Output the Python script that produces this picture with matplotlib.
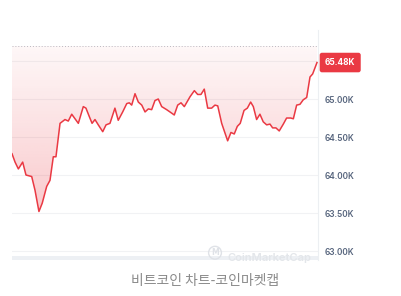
import numpy as np
import matplotlib
matplotlib.use("Agg")
import matplotlib.pyplot as plt
from matplotlib.patches import Polygon

# ---- data ----
hours = [0.00, 0.24, 0.50, 0.84, 1.10, 1.55, 1.81, 2.12, 2.38, 2.73, 2.99, 3.25, 3.46,
         3.78, 4.17, 4.43, 4.70, 5.22, 5.61, 5.82, 6.08, 6.30, 6.53, 6.79, 7.14, 7.40,
         7.71, 8.10, 8.36, 8.71, 9.03, 9.23, 9.42, 9.68, 9.94, 10.21, 10.47, 10.73,
         10.99, 11.25, 11.51, 11.78, 12.17, 12.43, 12.77, 13.04, 13.30, 13.56, 14.01,
         14.35, 14.61, 14.87, 15.13, 15.40, 15.71, 15.97, 16.19, 16.50, 16.97, 17.23,
         17.49, 17.73, 17.96, 18.26, 18.52, 18.78, 18.99, 19.25, 19.51, 19.77, 20.04,
         20.30, 20.51, 20.77, 21.03, 21.35, 21.61, 21.93, 22.14, 22.40, 22.66, 22.92,
         23.19, 23.45, 23.66, 24.00]
price_k = [64.28, 64.17, 64.08, 64.17, 64.00, 63.98, 63.80, 63.52, 63.63, 63.85, 63.93,
           64.24, 64.24, 64.68, 64.73, 64.71, 64.80, 64.68, 64.90, 64.88, 64.77, 64.68,
           64.73, 64.66, 64.57, 64.66, 64.68, 64.88, 64.72, 64.83, 64.94, 64.95, 64.92,
           65.07, 64.96, 64.92, 64.83, 64.87, 64.86, 64.98, 65.00, 64.90, 64.86, 64.83,
           64.79, 64.92, 64.95, 64.90, 65.03, 65.11, 65.06, 65.06, 65.13, 64.88, 64.88,
           64.92, 64.91, 64.68, 64.45, 64.56, 64.54, 64.64, 64.68, 64.85, 64.88, 64.96,
           64.90, 64.73, 64.80, 64.70, 64.66, 64.67, 64.62, 64.62, 64.58, 64.67, 64.75,
           64.75, 64.74, 64.92, 64.93, 64.99, 65.02, 65.29, 65.33, 65.48]
ref_price = 65.70
last_price = 65.48
yticks = [63.0, 63.5, 64.0, 64.5, 65.0]
ytick_labels = ["63.00K", "63.50K", "64.00K", "64.50K", "65.00K"]
grid_levels = [63.0, 63.5, 64.0, 64.5, 65.0, 65.5]
caption = "비트코인 차트-코인마켓캡"

RED = "#ea3943"
W, H = 401, 296
fig = plt.figure(figsize=(W / 100, H / 100), dpi=100)
fig.patch.set_facecolor("white")
ax = fig.add_axes([12 / W, (H - 260) / H, (318 - 12) / W, (260 - 30) / H])
ax.set_xlim(0, 24.08)
ax.set_ylim(62.882, 65.908)

# grid
for g in grid_levels:
    ax.axhline(g, color="#f1f2f4", lw=0.8, zorder=0)
ax.axhline(ref_price, color="#b9bec6", lw=0.7, ls=(0, (1, 2)), zorder=1)

x = np.array(hours)
y = np.array(price_k)

# gradient fill between line and reference
verts = list(zip(x, y)) + [(x[-1], ref_price), (x[0], ref_price)]
poly = Polygon(verts, closed=True, fc="none", ec="none")
ax.add_patch(poly)
ylo, yhi = 63.4, ref_price
n = 256
grad = np.zeros((n, 1, 4))
rgb = matplotlib.colors.to_rgb(RED)
grad[..., 0], grad[..., 1], grad[..., 2] = rgb
grad[:, 0, 3] = np.linspace(0.28, 0.04, n)
im = ax.imshow(grad, extent=[x[0], x[-1], ylo, yhi], origin="lower",
               aspect="auto", zorder=1, interpolation="bilinear")
im.set_clip_path(poly)

ax.plot(x, y, color=RED, lw=1.1, zorder=3, solid_joinstyle="round")

# volume strip at bottom
ax.axhspan(62.882, 62.935, color="#edf0f4", lw=0, zorder=1)

# watermark
ax.text(203 / 306, 0.012, "M", transform=ax.transAxes, fontsize=5.5, color="#dfe2e7",
        ha="center", va="bottom", fontweight="bold", zorder=2,
        bbox=dict(boxstyle="circle,pad=0.25", fc="none", ec="#dfe2e7", lw=1.0))
ax.text(216 / 306, -0.012, "CoinMarketCap", transform=ax.transAxes, fontsize=8,
        color="#e3e6ea", ha="left", va="bottom", fontfamily="Inter", zorder=2,
        fontweight="semibold")

# spines / ticks
for s in ["top", "left", "bottom"]:
    ax.spines[s].set_visible(False)
ax.spines["right"].set_color("#eceff2")
ax.spines["right"].set_linewidth(0.8)
ax.set_xticks([])
ax.yaxis.tick_right()
ax.set_yticks(yticks)
ax.set_yticklabels(ytick_labels)
ax.tick_params(axis="y", length=0, pad=5, labelsize=6, labelcolor="#58667e")
for lab in ax.get_yticklabels():
    lab.set_fontfamily("Inter")
    lab.set_fontweight("semibold")

# last price badge
ax.annotate(f"{last_price:.2f}K", xy=(1, last_price), xycoords=("axes fraction", "data"),
            xytext=(5, 0), textcoords="offset points", ha="left", va="center",
            fontsize=6, color="white", fontweight="bold", fontfamily="Inter",
            bbox=dict(boxstyle="round,pad=0.55,rounding_size=0.2", fc=RED, ec=RED),
            annotation_clip=False, zorder=5)

fig.text(205 / W, 1 - 281 / H, caption, ha="center", va="center", fontsize=10,
         color="#8a8a8a", style="italic",
         fontfamily=["Noto Sans CJK KR", "DejaVu Sans"])

fig.savefig("out.png", dpi=100, facecolor="white")
